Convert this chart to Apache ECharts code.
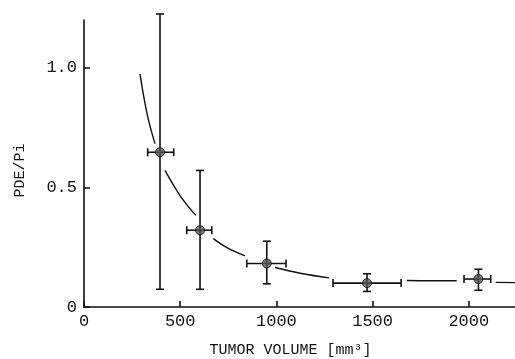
<!DOCTYPE html>
<html>
<head>
<meta charset="utf-8">
<script src="https://cdn.jsdelivr.net/npm/echarts@6/dist/echarts.min.js"></script>
<style>
  html, body { margin: 0; padding: 0; background: #fff; }
  #chart { width: 515px; height: 359px; }
</style>
</head>
<body>
<div id="chart"></div>
<script>
// measured points: volume, ratio, and error bar ends
const volume = [395, 603, 950, 1471, 2050];
const ratio = [0.647, 0.321, 0.182, 0.100, 0.117];
const volLow = [331, 534, 846, 1294, 1975];
const volHigh = [466, 664, 1050, 1648, 2114];
const ratioLow = [0.074, 0.074, 0.097, 0.065, 0.070];
const ratioHigh = [1.225, 0.571, 0.275, 0.139, 0.158];

// fitted curve (broken around each point)
const curveX = [291, 330, 369, null, 421, 500, 581, null, 672, 750, 837, null,
  993, 1130, 1274, null, 1677, 1800, 1937, null, 2141, 2240];
const curveY = [0.974, 0.80, 0.683, null, 0.571, 0.465, 0.383, null, 0.286, 0.245, 0.214, null,
  0.165, 0.14, 0.122, null, 0.111, 0.110, 0.110, null, 0.103, 0.102];

const xTicks = [0, 500, 1000, 1500, 2000];
const yTicks = [0, 0.5, 1.0];

const font = "'Liberation Mono', 'DejaVu Sans Mono', monospace";

const chart = echarts.init(document.getElementById("chart"));

const curveData = curveX.map((x, i) => (x === null ? [null, null] : [x, curveY[i]]));
const errData = volume.map((v, i) => [v, ratio[i], volLow[i], volHigh[i], ratioLow[i], ratioHigh[i]]);
const pointData = volume.map((v, i) => [v, ratio[i]]);

function renderError(params, api) {
  const c = api.coord([api.value(0), api.value(1)]);
  const l = api.coord([api.value(2), api.value(1)]);
  const r = api.coord([api.value(3), api.value(1)]);
  const b = api.coord([api.value(0), api.value(4)]);
  const t = api.coord([api.value(0), api.value(5)]);
  const cap = 4;
  const style = { stroke: "#111", lineWidth: 1.6 };
  const line = (x1, y1, x2, y2) => ({ type: "line", shape: { x1, y1, x2, y2 }, style });
  return {
    type: "group",
    children: [
      line(l[0], c[1], r[0], c[1]),
      line(l[0], c[1] - cap, l[0], c[1] + cap),
      line(r[0], c[1] - cap, r[0], c[1] + cap),
      line(c[0], b[1], c[0], t[1]),
      line(c[0] - cap, b[1], c[0] + cap, b[1]),
      line(c[0] - cap, t[1], c[0] + cap, t[1]),
    ],
  };
}

const option = {
  animation: false,
  backgroundColor: "#fff",
  grid: { left: 84, right: 0, top: 20, bottom: 52, containLabel: false, outerBoundsMode: "none" },
  xAxis: {
    type: "value",
    min: 0,
    max: 2240,
    interval: 500,
    name: "TUMOR VOLUME [mm³]",
    nameLocation: "middle",
    nameGap: 36,
    nameTextStyle: { fontFamily: font, fontSize: 15, color: "#111", padding: [0, 18, 0, 0] },
    axisLine: { lineStyle: { color: "#111", width: 1.6 } },
    axisTick: { inside: true, length: 6, lineStyle: { color: "#111", width: 1.6 } },
    axisLabel: {
      fontFamily: font, fontSize: 17, color: "#111", margin: 6,
      showMaxLabel: false,
      formatter: (v) => (xTicks.includes(v) ? String(v) : ""),
    },
    splitLine: { show: false },
  },
  yAxis: {
    type: "value",
    min: 0,
    max: 1.2,
    interval: 0.5,
    name: "PDE/Pi",
    nameLocation: "middle",
    nameGap: 56,
    nameTextStyle: { fontFamily: font, fontSize: 15, color: "#111", padding: [0, 0, 0, -14] },
    axisLine: { lineStyle: { color: "#111", width: 1.6 } },
    axisTick: { inside: true, length: 6, lineStyle: { color: "#111", width: 1.6 } },
    axisLabel: {
      fontFamily: font, fontSize: 17, color: "#111", margin: 7,
      showMaxLabel: false,
      formatter: (v) => (yTicks.includes(v) ? (v === 0 ? "0" : v.toFixed(1)) : ""),
    },
    splitLine: { show: false },
  },
  series: [
    {
      type: "line",
      data: curveData,
      smooth: 0.4,
      connectNulls: false,
      showSymbol: false,
      lineStyle: { color: "#111", width: 1.4 },
      z: 1,
    },
    {
      type: "custom",
      renderItem: renderError,
      data: errData,
      encode: { x: 0, y: 1 },
      z: 2,
    },
    {
      type: "scatter",
      data: pointData,
      symbol: "circle",
      symbolSize: 9,
      itemStyle: { color: "#555", borderColor: "#111", borderWidth: 1 },
      z: 3,
    },
  ],
};

chart.setOption(option);
</script>
</body>
</html>
